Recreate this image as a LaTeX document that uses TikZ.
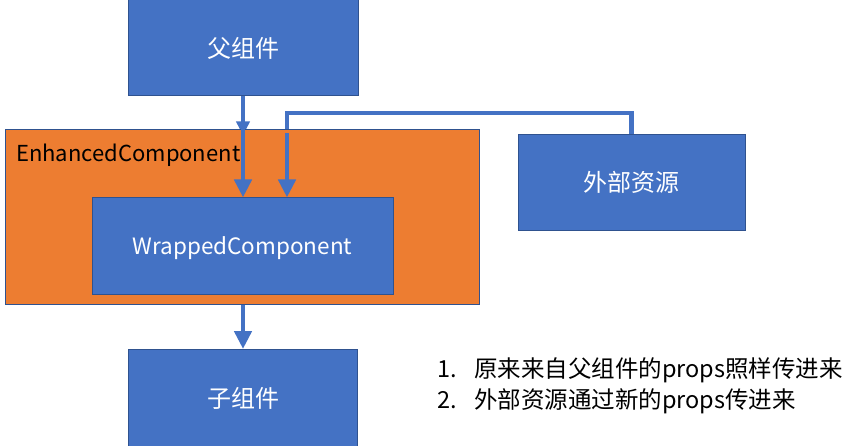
\documentclass[tikz,border=0pt]{standalone}
\usepackage{fontspec}
\setmainfont{Noto Sans CJK SC}
\usetikzlibrary{arrows.meta,backgrounds,calc}
\usepackage{xcolor}
\definecolor{boxblue}{HTML}{4472C4}
\definecolor{boxedge}{HTML}{2F528F}
\definecolor{wrapper}{HTML}{ED7D31}

\begin{document}
\begin{tikzpicture}[x=1pt,y=-1pt,
		block/.style={draw=boxedge,line width=1pt,fill=boxblue,text=white,inner sep=0pt,font=\fontsize{24}{28}\selectfont},
		flow/.style={draw=boxblue,line width=4.5pt,-{Triangle[width=17pt,length=18pt]}},
		link/.style={draw=boxblue,line width=4.5pt},]
		\useasboundingbox (0,0) rectangle (859,446);
		%boxes
		\node[block,minimum width=230pt,minimum height=96pt] (parent) at (243,48) {父组件};
		\node[draw=boxedge,line width=1pt,fill=wrapper,inner sep=0pt,minimum width=474pt,minimum height=174pt] (enhanced) at (242,217) {};
		\node[anchor=base west,inner sep=0pt,font=\fontsize{22}{26}\selectfont] (title) at (16,162) {EnhancedComponent};
		\node[block,font=\fontsize{22.5}{26}\selectfont,text depth=0pt,minimum width=301pt,minimum height=96pt] (wrapped) at (242.5,246) {WrappedComponent};
		\node[block,minimum width=227pt,minimum height=96pt] (external) at (631.5,182.5) {外部资源};
		\node[block,minimum width=229pt,minimum height=97pt] (child) at (243,398) {子组件};
		%notes
		\node[anchor=west,inner sep=0pt,font=\fontsize{23.5}{31}\selectfont] (notes) at (437,386.5) {%
			\begin{tabular}{@{}p{37pt}@{}l@{}}
				1. & 原来来自父组件的props照样传进来\\
				2. & 外部资源通过新的props传进来
		\end{tabular}};
		%arrows
		\begin{scope}[on background layer]
			\draw[flow,-{Triangle[width=13pt,length=14pt]}] (parent.south) -- ($(parent.south |- enhanced.north)+(0,6)$);
		\end{scope}
		\draw[flow] (parent.south |- enhanced.north) -- (parent.south |- wrapped.north);
		\coordinate (bend) at (287,113);
		\draw[link] (external.north) |- (bend) -- (bend |- enhanced.north);
		\draw[flow] ($(bend |- enhanced.north)+(0,4)$) -- (bend |- wrapped.north);
		\draw[flow] (enhanced.south -| parent.south) -- (child.north);
	\end{tikzpicture}
\end{document}
